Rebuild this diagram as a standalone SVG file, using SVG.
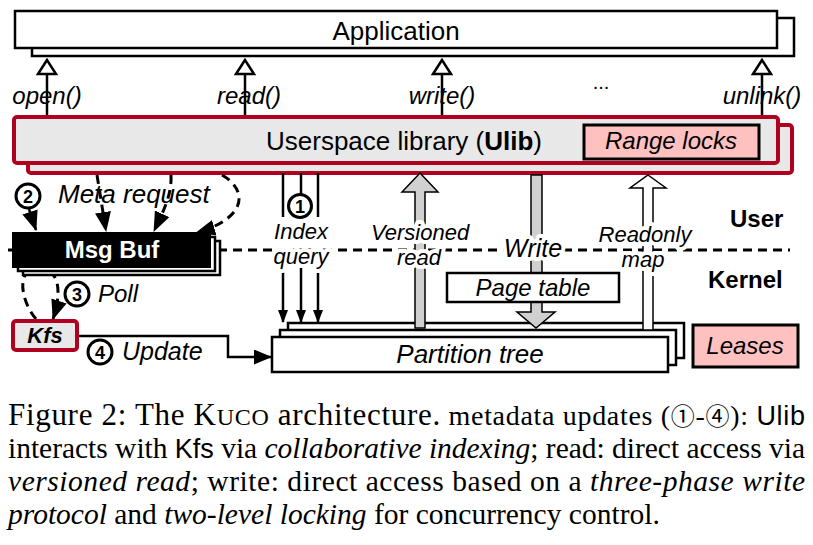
<svg xmlns="http://www.w3.org/2000/svg" width="813" height="545" viewBox="0 0 813 545">
<style>
.s{font-family:"Liberation Sans",Arial,sans-serif;fill:#000}
.i{font-style:italic}
.b{font-weight:bold}
.box{fill:#fff;stroke:#000;stroke-width:2.5}
.red{fill:#e8e8e8;stroke:#b00020;stroke-width:4}
.pink{fill:#ffc0c0;stroke:#000;stroke-width:3}
.ln{fill:none;stroke:#000;stroke-width:2.5}
.dash{fill:none;stroke:#000;stroke-width:3;stroke-dasharray:9 6}
.halo{stroke:#fff;stroke-width:8;stroke-linejoin:round;paint-order:stroke}
.cc{fill:#fff;stroke:#000;stroke-width:3}
.cd{font-family:"Liberation Sans",Arial,sans-serif;font-weight:bold;font-size:18px;text-anchor:middle;fill:#000}
.circ{font-family:"Noto Sans CJK SC","DejaVu Sans",sans-serif}
.cap{font-family:"Liberation Serif","Times New Roman",serif;fill:#000}
.capS{font-family:"Liberation Sans",Arial,sans-serif}
</style>
<defs>
<marker id="ah" viewBox="0 0 20 16" refX="19" refY="8" markerWidth="20" markerHeight="16" markerUnits="userSpaceOnUse" orient="auto">
<path d="M0,0 L20,8 L0,16 z" fill="#000"/>
</marker>
<marker id="ahs" viewBox="0 0 13 10" refX="12" refY="5" markerWidth="13" markerHeight="10" markerUnits="userSpaceOnUse" orient="auto">
<path d="M0,0 L13,5 L0,10 z" fill="#000"/>
</marker>
<marker id="ahm" viewBox="0 0 18 15" refX="17" refY="7.5" markerWidth="18" markerHeight="15" markerUnits="userSpaceOnUse" orient="auto">
<path d="M0,0 L18,7.5 L0,15 z" fill="#000"/>
</marker>
</defs>

<g id="application">
<rect class="box" x="32" y="18" width="762" height="38"/>
<rect class="box" x="15" y="11" width="762" height="37"/>
<text class="s" x="396" y="40" font-size="26" text-anchor="middle">Application</text>
</g>

<g id="syscalls">
<g class="ln">
<line x1="47" y1="73" x2="47" y2="117"/>
<line x1="245" y1="73" x2="245" y2="117"/>
<line x1="442" y1="73" x2="442" y2="117"/>
<line x1="762" y1="73" x2="762" y2="117"/>
</g>
<g fill="#fff" stroke="#000" stroke-width="2.5">
<polygon points="47,60 38,74 56,74"/>
<polygon points="245,60 236,74 254,74"/>
<polygon points="442,60 433,74 451,74"/>
<polygon points="762,60 753,74 771,74"/>
</g>
<g class="s i" font-size="24" text-anchor="middle">
<text x="47" y="104">open()</text>
<text x="249" y="104">read()</text>
<text x="442" y="104">write()</text>
<text x="762" y="104">unlink()</text>
</g>
<text class="s" x="601" y="89" font-size="20" text-anchor="middle">...</text>
</g>

<g id="ulib">
<rect class="red" x="28" y="125" width="764" height="48" rx="3"/>
<rect class="red" x="14" y="117" width="764" height="46" rx="3"/>
<text class="s" x="404" y="150" font-size="26" text-anchor="middle">Userspace library (<tspan class="b">Ulib</tspan>)</text>
</g>

<g id="range-locks">
<rect class="pink" x="584" y="125" width="175" height="34"/>
<text class="s i" x="671" y="149" font-size="24" text-anchor="middle">Range locks</text>
</g>

<g id="connectors">
<line class="dash" x1="8" y1="250" x2="790" y2="250"/>
<path class="dash" d="M97,175 L106,231" marker-end="url(#ah)"/>
<path class="dash" d="M171,175 C172,195 163,212 154,231" marker-end="url(#ah)"/>
<path class="dash" d="M222,175 C248,190 248,218 196,233" marker-end="url(#ah)"/>
<path class="ln" d="M29,209 L36,230" marker-end="url(#ah)"/>
<path class="dash" d="M36,319 C20,300 16,268 38,268 C60,268 62,292 53,319" marker-end="url(#ah)"/>
<path class="ln" d="M79,336 H228 V357 H271" marker-end="url(#ahm)"/>
<g class="ln">
<line x1="283" y1="173" x2="283" y2="217"/>
<line x1="301" y1="173" x2="301" y2="217"/>
<line x1="318" y1="173" x2="318" y2="217"/>
</g>
<g class="ln" marker-end="url(#ahs)">
<line x1="283" y1="268" x2="283" y2="322"/>
<line x1="301" y1="268" x2="301" y2="322"/>
<line x1="318" y1="268" x2="318" y2="322"/>
</g>
</g>

<g id="msg-buf">
<rect class="box" x="23" y="241" width="197" height="34" stroke-width="2"/>
<rect class="box" x="18" y="237" width="197" height="34" stroke-width="2"/>
<rect x="13" y="233" width="197" height="34" fill="#000" stroke="#000" stroke-width="2"/>
<text class="s b" x="112" y="258" font-size="24" text-anchor="middle" style="fill:#fff">Msg Buf</text>
</g>

<g id="partition-tree">
<rect class="box" x="288" y="323" width="396" height="35"/>
<rect class="box" x="280" y="330" width="396" height="35"/>
<rect class="box" x="272" y="337" width="396" height="35"/>
<text class="s i" x="470" y="363" font-size="26" text-anchor="middle">Partition tree</text>
</g>

<g id="data-arrows">
<polygon points="420,173 438,192 425,192 425,328 415,328 415,192 402,192" fill="#d0d0d0" stroke="#000" stroke-width="1.5"/>
<polygon points="531,175 542,175 542,312 555,312 536,328 517,312 531,312" fill="#d0d0d0" stroke="#000" stroke-width="1.5"/>
<polygon points="648,175 666,188 653,188 653,330 643,330 643,188 630,188" fill="#fff" stroke="#000" stroke-width="1.5"/>
</g>

<g id="page-table">
<rect class="box" x="447" y="273" width="172" height="29" stroke-width="3"/>
<text class="s i" x="533" y="296" font-size="24" text-anchor="middle">Page table</text>
</g>

<g id="labels">
<g class="s i halo" text-anchor="middle" font-size="22">
<text><tspan x="301" y="239">Index</tspan><tspan x="301" y="264">query</tspan></text>
<text><tspan x="420" y="240">Versioned</tspan><tspan x="419" y="265">read</tspan></text>
<text x="533" y="257" font-size="25">Write</text>
<text><tspan x="645" y="242">Readonly</tspan><tspan x="643" y="267">map</tspan></text>
</g>
<g id="step1"><circle class="cc" cx="300" cy="206" r="11.5"/><text class="cd" x="300" y="212.5">1</text></g>
<g id="step2"><circle class="cc" cx="28" cy="196" r="12"/><text class="cd" x="28" y="202.5">2</text></g>
<g id="step3"><circle class="cc" cx="77" cy="294" r="12"/><text class="cd" x="77" y="300.5">3</text></g>
<g id="step4"><circle class="cc" cx="100" cy="352" r="12"/><text class="cd" x="100" y="358.5">4</text></g>
<text class="s i" x="58" y="203" font-size="26">Meta request</text>
<text class="s i" x="98" y="302" font-size="24">Poll</text>
<text class="s i" x="122" y="360" font-size="25">Update</text>
<text class="s b" x="730" y="227" font-size="24">User</text>
<text class="s b" x="708" y="288" font-size="24">Kernel</text>
</g>

<g id="kfs">
<rect class="red" x="13" y="321" width="64" height="29" rx="3"/>
<text class="s b i" x="45" y="343" font-size="22" text-anchor="middle">Kfs</text>
</g>

<g id="leases">
<rect class="pink" x="693" y="325" width="105" height="42"/>
<text class="s i" x="745" y="354" font-size="24" text-anchor="middle">Leases</text>
</g>

<g id="caption">
<text class="cap" x="8" y="425" font-size="31" textLength="797" lengthAdjust="spacing">Figure 2: The K<tspan font-size="24">UCO</tspan> architecture.<tspan font-size="28"> metadata updates (<tspan class="circ" font-size="24">①</tspan>-<tspan class="circ" font-size="24">④</tspan>): </tspan><tspan class="capS" font-size="27">Ulib</tspan></text>
<text class="cap" x="8" y="458" font-size="29.5" textLength="797" lengthAdjust="spacing">interacts with <tspan class="capS" font-size="27">Kfs</tspan> via <tspan font-style="italic">collaborative indexing</tspan>; read: direct access via</text>
<text class="cap" x="8" y="491" font-size="29.5" textLength="797" lengthAdjust="spacing"><tspan font-style="italic">versioned read</tspan>; write: direct access based on a <tspan font-style="italic">three-phase write</tspan></text>
<text class="cap" x="8" y="524" font-size="29.5"><tspan font-style="italic">protocol</tspan> and <tspan font-style="italic">two-level locking</tspan> for concurrency control.</text>
</g>
</svg>
